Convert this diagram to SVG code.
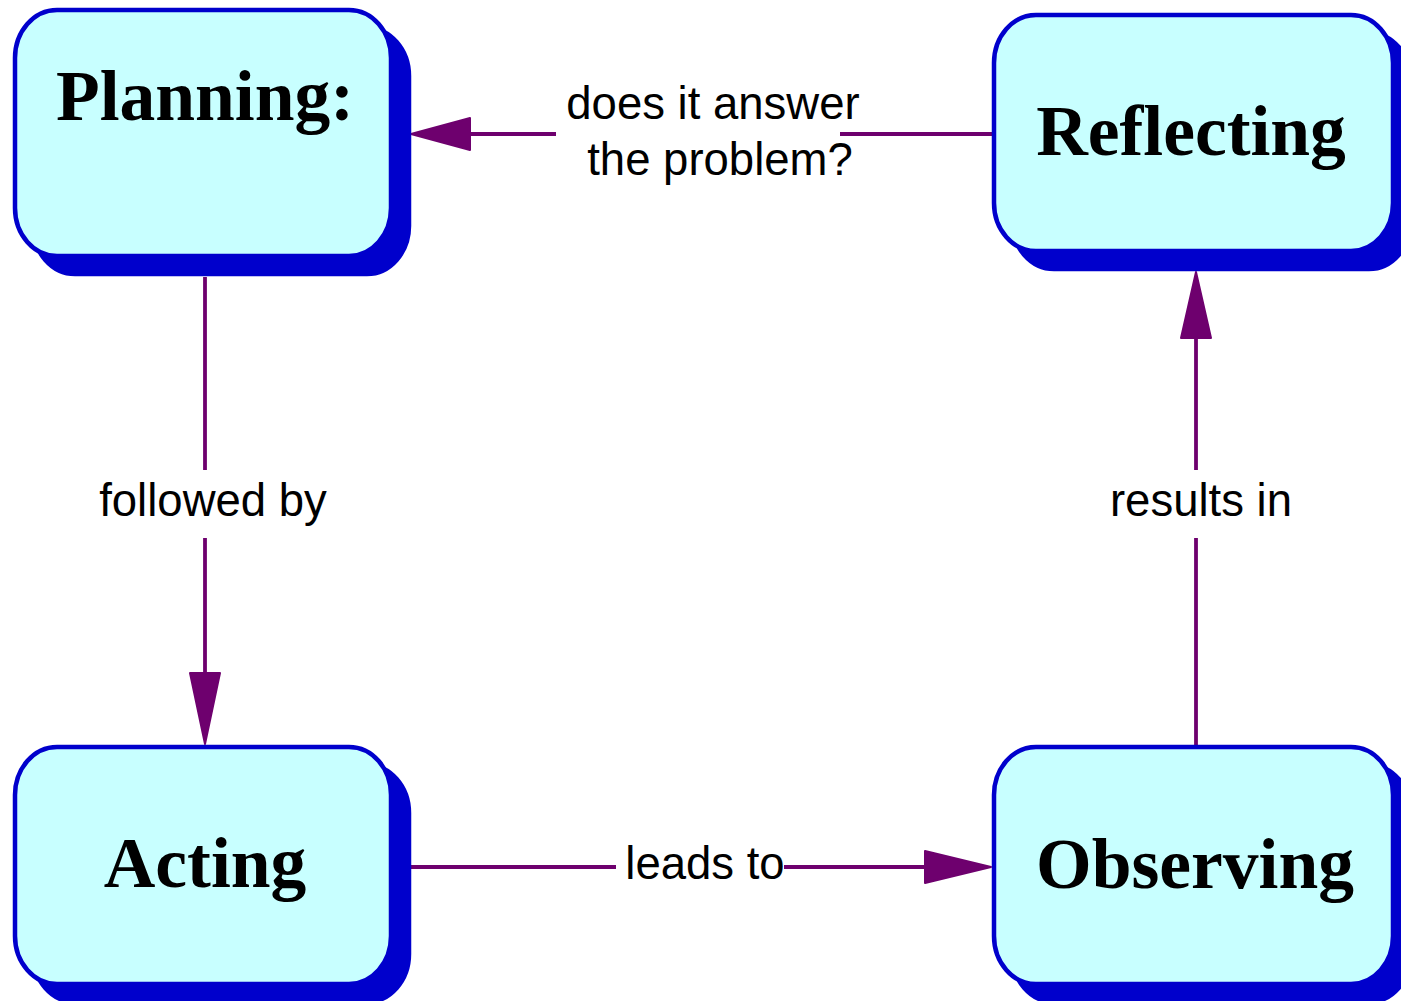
<svg xmlns="http://www.w3.org/2000/svg" width="1401" height="1001" viewBox="0 0 1401 1001">
<style>
.shadow{fill:#0000cc;stroke:#0000cc;stroke-width:4.5}
.box{fill:#c8ffff;stroke:#0000cc;stroke-width:4.5}
.title{font-family:"Liberation Serif","Times New Roman",serif;font-weight:bold;font-size:71.5px;fill:#000;text-anchor:middle}
.edge{stroke:#6e006e;stroke-width:3.8;fill:none}
.head{fill:#6e006e;stroke:#6e006e;stroke-width:2;stroke-linejoin:round}
.lbl{font-family:"Liberation Sans",Arial,sans-serif;font-size:45.5px;fill:#000;text-anchor:middle}
</style>
<rect width="1401" height="1001" fill="#fff"/>
<g id="connectors">
  <line class="edge" x1="205" y1="277" x2="205" y2="470"/>
  <line class="edge" x1="205" y1="538" x2="205" y2="674"/>
  <polygon class="head" points="190,673 220,673 205,744"/>
  <text class="lbl" x="213" y="516">followed by</text>

  <line class="edge" x1="992" y1="134" x2="840" y2="134"/>
  <line class="edge" x1="556" y1="134" x2="468" y2="134"/>
  <polygon class="head" points="470,118 470,150 411,134"/>
  <text class="lbl" x="713" y="119">does it answer</text>
  <text class="lbl" x="720" y="175">the problem?</text>

  <line class="edge" x1="410" y1="867" x2="616" y2="867"/>
  <line class="edge" x1="784" y1="867" x2="927" y2="867"/>
  <polygon class="head" points="925,851 925,883 991,867"/>
  <text class="lbl" x="705" y="879">leads to</text>

  <line class="edge" x1="1196" y1="745" x2="1196" y2="538"/>
  <line class="edge" x1="1196" y1="470" x2="1196" y2="336"/>
  <polygon class="head" points="1181,338 1211,338 1196,272"/>
  <text class="lbl" x="1201" y="516">results in</text>
</g>
<g id="planning">
  <rect class="shadow" x="33" y="28" width="376" height="246" rx="42" ry="48"/>
  <rect class="box" x="15" y="10" width="376" height="246" rx="42" ry="48"/>
  <text class="title" x="205" y="120">Planning:</text>
</g>
<g id="reflecting">
  <rect class="shadow" x="1012" y="33" width="399" height="236" rx="42" ry="48"/>
  <rect class="box" x="994" y="15" width="399" height="236" rx="42" ry="48"/>
  <text class="title" x="1191" y="155">Reflecting</text>
</g>
<g id="acting">
  <rect class="shadow" x="33" y="765" width="376" height="237" rx="42" ry="48"/>
  <rect class="box" x="15" y="747" width="376" height="237" rx="42" ry="48"/>
  <text class="title" x="205" y="887">Acting</text>
</g>
<g id="observing">
  <rect class="shadow" x="1012" y="765" width="399" height="237" rx="42" ry="48"/>
  <rect class="box" x="994" y="747" width="399" height="237" rx="42" ry="48"/>
  <text class="title" x="1195" y="888">Observing</text>
</g>
</svg>
